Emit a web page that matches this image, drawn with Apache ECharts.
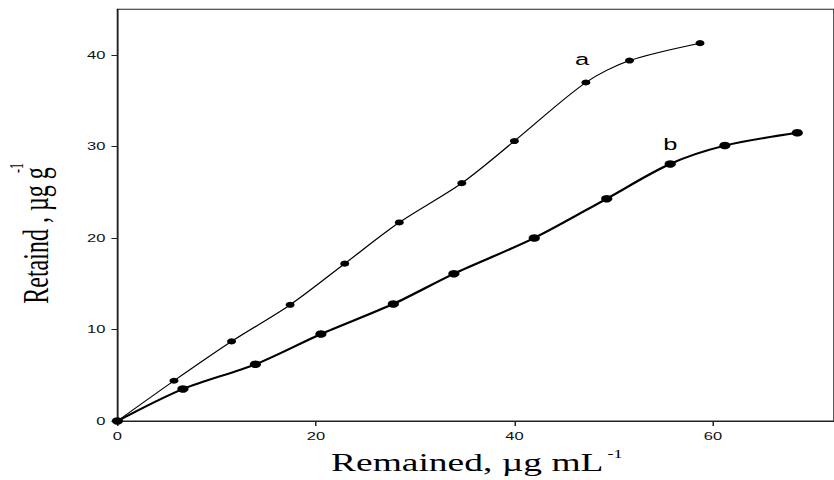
<!DOCTYPE html>
<html>
<head>
<meta charset="utf-8">
<script src="https://cdn.jsdelivr.net/npm/echarts@6/dist/echarts.min.js"></script>
<style>
  html, body { margin: 0; padding: 0; background: #fff; overflow: hidden; }
  /* the figure is drawn narrow and widened horizontally, like the printed plot */
  #chart { width: 556px; height: 480px; transform: scaleX(1.5); transform-origin: 0 0; }
</style>
</head>
<body>
<div id="chart"></div>
<script>
// Series a: remained vs retained
const remainedA = [0, 5.7, 11.5, 17.4, 22.9, 28.4, 34.7, 40.0, 47.2, 51.6, 58.7];
const retainedA = [0, 4.4, 8.7, 12.7, 17.2, 21.7, 26.0, 30.6, 37.0, 39.4, 41.3];
// Series b: remained vs retained
const remainedB = [0, 6.6, 13.9, 20.5, 27.8, 33.9, 42.0, 49.3, 55.7, 61.2, 68.5];
const retainedB = [0, 3.5, 6.2, 9.5, 12.8, 16.1, 20.0, 24.3, 28.1, 30.1, 31.5];
// Axis tick values
const xTicks = [0, 20, 40, 60];
const yTicks = [0, 10, 20, 30, 40];
// Curve names and the point each name is written next to
const curveNames = ['a', 'b'];
const nameAt = [8, 8];

const chart = echarts.init(document.getElementById('chart'), null, { renderer: 'svg' });

function buildData(xs, ys, labelIdx, offset) {
  return xs.map((x, i) => {
    const item = { value: [x, ys[i]] };
    if (i === labelIdx) {
      item.label = {
        show: true,
        position: 'inside',
        formatter: '{a}',
        offset: offset,
        color: '#000',
        fontFamily: '"Liberation Sans", Arial, sans-serif',
        fontSize: 17
      };
    }
    return item;
  });
}

const tickFont = { fontFamily: '"Liberation Sans", Arial, sans-serif', fontSize: 11, color: '#111' };
const serif = '"Liberation Serif", "Times New Roman", serif';

chart.setOption({
  animation: false,
  backgroundColor: '#fff',
  grid: {
    left: 78.3, right: -1, top: 9.3, bottom: 59,
    show: true, borderColor: '#222', borderWidth: 1, backgroundColor: 'transparent'
  },
  xAxis: {
    type: 'value', min: 0, max: 72.2,
    axisLine: { show: true, lineStyle: { color: '#222', width: 1 } },
    axisTick: { show: true, length: 5, customValues: xTicks, lineStyle: { color: '#222' } },
    axisLabel: Object.assign({ margin: 10, customValues: xTicks }, tickFont),
    splitLine: { show: false }
  },
  yAxis: {
    type: 'value', min: 0, max: 45,
    axisLine: { show: true, lineStyle: { color: '#222', width: 1 } },
    axisTick: { show: true, length: 4, customValues: yTicks, lineStyle: { color: '#222' } },
    axisLabel: Object.assign({ margin: 8, customValues: yTicks }, tickFont),
    splitLine: { show: false }
  },
  graphic: [
    { type: 'text', x: 311.5, y: 462.6,
      style: { text: 'Remained, \u00b5g mL', font: '25px ' + serif, fill: '#000', align: 'center', verticalAlign: 'middle' } },
    { type: 'text', x: 405, y: 453.5,
      style: { text: '-1', font: '12px ' + serif, fill: '#000', align: 'left', verticalAlign: 'middle' } },
    { type: 'text', x: 24, y: 235.5, rotation: Math.PI / 2,
      style: { text: 'Retaind , \u00b5g g', font: '24px ' + serif, fill: '#000', align: 'center', verticalAlign: 'middle' } },
    { type: 'text', x: 11, y: 168, rotation: Math.PI / 2,
      style: { text: '-1', font: '12px ' + serif, fill: '#000', align: 'center', verticalAlign: 'middle' } }
  ],
  series: [
    {
      name: curveNames[0], type: 'line', smooth: 0.3,
      symbol: 'circle', symbolSize: 6,
      lineStyle: { color: '#000', width: 1 },
      itemStyle: { color: '#000' },
      data: buildData(remainedA, retainedA, nameAt[0], [-2.6, -23.5])
    },
    {
      name: curveNames[1], type: 'line', smooth: 0.3,
      symbol: 'circle', symbolSize: 7.5,
      lineStyle: { color: '#000', width: 2 },
      itemStyle: { color: '#000' },
      data: buildData(remainedB, retainedB, nameAt[1], [0, -20])
    }
  ]
});
</script>
</body>
</html>
